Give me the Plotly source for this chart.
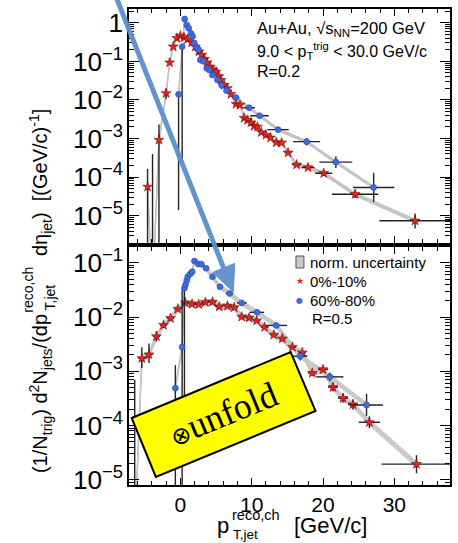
import plotly.graph_objects as go

# ---------------- data: R = 0.2 (top panel) ----------------
x_r02 = [-4.6, -3.9, -3.0, -2.0, -1.5, -1.0, -0.5, 0.0, 0.5, 1.0, 1.6, 2.1, 2.6, 3.0, 3.4, 3.75,
         4.2, 4.6, 5.0, 5.4, 5.7, 6.15, 6.6, 7.1, 7.8, 8.35, 8.95, 9.4, 9.9, 10.35, 10.8, 11.35,
         12.0, 12.65, 13.45, 14.2, 15.1, 16.3, 17.9, 20.1, 24.5, 32.9]
y_r02 = [5.6e-5, 1e-7, 9.2e-4, 0.0149, 0.093, 0.24, 0.40, 0.46, 0.42, 0.37, 0.31, 0.24, 0.18, 0.147,
         0.115, 0.093, 0.072, 0.060, 0.054, 0.041, 0.033, 0.0245, 0.020, 0.0141, 0.0078, 0.0074,
         0.0034, 0.0030, 0.0026, 0.0021, 0.0020, 0.00145, 0.00123, 0.00105, 0.00079, 0.00078,
         0.00043, 0.00021, 0.000178, 0.000126, 3.6e-5, 7.4e-6]
ex_r02 = [0.25] * 34 + [0.4, 0.4, 0.5, 0.6, 0.9, 1.2, 3.25, 5.0]
eup_r02 = [1.9, 3999, 1.5, 0.3] + [0.06] * 33 + [0.12, 0.12, 0.15, 0.25, 0.55]
edn_r02 = [0.999, 0.0, 0.999, 0.3] + [0.06] * 33 + [0.12, 0.12, 0.15, 0.2, 0.37]

x_b02 = [-0.25, 0.25, 0.6, 0.9, 1.17, 1.5, 1.73, 1.97, 2.29, 2.57, 2.8, 3.2, 3.7, 4.05, 4.5, 5.2,
         5.8, 6.47, 7.78, 9.64, 11.1, 13.7, 17.7, 21.8, 27.1]
y_b02 = [0.014, 0.24, 1.25, 0.88, 0.72, 0.53, 0.44, 0.29, 0.23, 0.20, 0.109, 0.10, 0.066, 0.060,
         0.044, 0.033, 0.024, 0.0174, 0.0115, 0.0063, 0.0039, 0.0017, 0.00083, 0.000245, 5.4e-5]
ex_b02 = [0.25] * 17 + [0.4, 0.5, 0.8, 1.3, 1.5, 1.9, 2.3, 2.9]
eup_b02 = [0.15, 0.1] + [0.05] * 15 + [0.06, 0.08, 0.1, 0.12, 0.18, 0.25, 0.4, 1.4]
edn_b02 = [0.999, 0.999] + [0.05] * 15 + [0.06, 0.08, 0.1, 0.12, 0.15, 0.2, 0.3, 0.58]

# ---------------- data: R = 0.5 (bottom panel) ----------------
x_r05 = [-6.4, -5.4, -4.4, -3.35, -2.36, -1.38, -0.36, 0.7, 1.64, 2.57, 3.5, 4.52, 5.45, 6.6, 7.55,
         8.6, 9.64, 10.7, 11.8, 13.1, 14.3, 15.7, 17.1, 18.5, 20.0, 21.4, 22.8, 24.2, 26.5, 33.1]
y_r05 = [1e-6, 0.00174, 0.00204, 0.0044, 0.0071, 0.0095, 0.0141, 0.0183, 0.0174, 0.0171, 0.0187,
         0.0190, 0.0155, 0.0160, 0.0150, 0.0101, 0.0097, 0.0086, 0.0065, 0.0047, 0.0040, 0.0028,
         0.00222, 0.00093, 0.00108, 0.00051, 0.00032, 0.000245, 0.000115, 1.95e-5]
ex_r05 = [0.5] * 23 + [0.6, 0.7, 0.7, 0.7, 0.7, 1.5, 4.9]
eup_r05 = [699, 0.6, 0.6, 0.25, 0.15, 0.1] + [0.06] * 17 + [0.12, 0.12, 0.2, 0.22, 0.24, 0.29, 0.46]
edn_r05 = [0.0, 0.34, 0.3, 0.2, 0.12, 0.1] + [0.06] * 17 + [0.1, 0.1, 0.17, 0.18, 0.2, 0.22, 0.32]

x_b05 = [-0.7, 0.25, 0.57, 0.71, 0.89, 1.03, 1.37, 1.65, 1.97, 2.5, 2.95, 3.6, 4.5, 5.55, 6.9, 8.6,
         10.75, 13.45, 16.8, 20.95, 26.1]
y_b05 = [0.00049, 0.0028, 0.034, 0.039, 0.047, 0.055, 0.062, 0.068, 0.107, 0.095, 0.094, 0.079,
         0.055, 0.036, 0.0272, 0.0182, 0.0122, 0.0070, 0.0019, 0.00079, 0.00024]
ex_b05 = [0.25] * 13 + [0.3, 0.5, 0.7, 1.0, 1.5, 1.0, 1.9, 2.3]
eup_b05 = [1.65, 10, 0.1] + [0.05] * 12 + [0.06, 0.08, 0.1, 0.2, 0.2, 0.6]
edn_b05 = [0.999, 0.999, 0.999] + [0.05] * 12 + [0.06, 0.08, 0.1, 0.17, 0.17, 0.37]

# relative normalisation (systematic) uncertainty for the grey bands
sys_r02, sys_b02, sys_r05, sys_b05 = 0.1, 0.08, 0.12, 0.1

series_names = ["0%-10%", "60%-80%"]
band_name = "norm. uncertainty"

# ---------------- styling ----------------
FONT = "Liberation Sans, Arial, Helvetica, sans-serif"
RED = "#e8231c"
BLUE = "#3c6de0"
W, H = 458, 543
ML, MR, MT, MB = 129, 6, 9, 58
PW, PH = W - ML - MR, H - MT - MB


def P(px, py):
    """pixel position -> paper coordinates (for decorations only)"""
    return (px - ML) / PW, (H - MB - py) / PH


fig = go.Figure()
TOP = dict(xaxis="x", yaxis="y")
BOT = dict(xaxis="x2", yaxis="y2")


def add_band(x, y, s, ax):
    up = [v * (1 + s) for v in y]
    lo = [v * (1 - s) for v in y]
    fig.add_trace(go.Scatter(
        x=list(x) + list(x)[::-1], y=up + lo[::-1], mode="lines", fill="toself",
        fillcolor="rgba(210,210,210,0.75)",
        fillpattern=dict(shape=".", fgcolor="#9a9a9a", bgcolor="#e2e2e2", size=3, solidity=0.3),
        line=dict(color="#b4b4b4", width=0.8), name=band_name, showlegend=False,
        hoverinfo="skip", **ax))


def add_line(x, y, ax):
    fig.add_trace(go.Scatter(x=x, y=y, mode="lines", line=dict(color="#c3c3c3", width=1.6),
                             showlegend=False, hoverinfo="skip", **ax))


def add_points(x, y, ex, eup, edn, ax, color, symbol, size, name):
    fig.add_trace(go.Scatter(
        x=x, y=y, mode="markers", name=name, showlegend=False,
        marker=dict(symbol=symbol, size=size, color=color,
                    line=dict(color="#5a0000" if symbol == "star" else "#1c3f9a", width=0.5)),
        error_x=dict(type="data", array=ex, color="#222222", thickness=1.4, width=0),
        error_y=dict(type="data", symmetric=False,
                     array=[v * u for v, u in zip(y, eup)],
                     arrayminus=[v * d for v, d in zip(y, edn)],
                     color="#222222", thickness=1.4, width=0),
        **ax))


# top panel
add_band(x_r02, y_r02, sys_r02, TOP)
add_band(x_b02, y_b02, sys_b02, TOP)
add_line(x_r02, y_r02, TOP)
add_line(x_b02, y_b02, TOP)
add_points(x_r02, y_r02, ex_r02, eup_r02, edn_r02, TOP, RED, "star", 7.5, series_names[0])
add_points(x_b02, y_b02, ex_b02, eup_b02, edn_b02, TOP, BLUE, "circle", 6, series_names[1])

# bottom panel
add_band(x_r05, y_r05, sys_r05, BOT)
add_band(x_b05, y_b05, sys_b05, BOT)
add_line(x_r05, y_r05, BOT)
add_line(x_b05, y_b05, BOT)
add_points(x_r05, y_r05, ex_r05, eup_r05, edn_r05, BOT, RED, "star", 7.5, series_names[0])
add_points(x_b05, y_b05, ex_b05, eup_b05, edn_b05, BOT, BLUE, "circle", 6, series_names[1])

xa = dict(range=[-7.2, 37.8], showgrid=False, zeroline=False, showline=True, linecolor="black",
          linewidth=1.5, mirror="ticks", ticks="inside", ticklen=7, tickwidth=1.2, tickcolor="black",
          tick0=0, dtick=10, tickfont=dict(family=FONT, size=21, color="black"),
          minor=dict(ticks="inside", ticklen=4, dtick=2, tick0=0, tickcolor="black", tickwidth=1,
                     showgrid=False))
ya = dict(type="log", showgrid=False, zeroline=False, showline=True, linecolor="black",
          linewidth=1.5, mirror="ticks", ticks="inside", ticklen=10, tickwidth=1.2, tickcolor="black",
          dtick=1, exponentformat="power", tickfont=dict(family=FONT, size=21, color="black"),
          minor=dict(ticks="inside", ticklen=5, dtick="D1", tickcolor="black", tickwidth=1,
                     showgrid=False))

top_lo = (H - MB - 242.7) / PH
bot_hi = (H - MB - 247.3) / PH

fig.update_layout(
    width=W, height=H, margin=dict(l=ML, r=MR, t=MT, b=MB), autosize=False,
    paper_bgcolor="white", plot_bgcolor="white",
    font=dict(family=FONT, color="black"),
    xaxis=dict(xa, anchor="y", domain=[0, 1], showticklabels=False),
    yaxis=dict(ya, anchor="x", domain=[top_lo, 1], range=[-5.70, 0.357]),
    xaxis2=dict(xa, anchor="y2", domain=[0, 1], showticklabels=True),
    yaxis2=dict(ya, anchor="x2", domain=[0, bot_hi], range=[-5.094, -0.716]),
    showlegend=False,
)

ann = []


def text(px, py, s, size, xanchor="left", yanchor="middle", angle=0, family=FONT, color="black"):
    X, Y = P(px, py)
    ann.append(dict(x=X, y=Y, xref="paper", yref="paper", text=s, showarrow=False,
                    xanchor=xanchor, yanchor=yanchor, textangle=angle,
                    font=dict(family=family, size=size, color=color)))


# top-panel labels
text(256, 29, "Au+Au, √s<sub>NN</sub>=200 GeV", 16.5)
text(256, 51, "9.0 < p<sub>T</sub><sup>trig</sup> < 30.0 GeV/c", 16)
text(256, 72, "R=0.2", 16)

# bottom-panel legend
text(309, 262, band_name, 15)
text(301, 281, "★", 9, xanchor="center", color=RED, family="DejaVu Sans")
text(309, 281, series_names[0], 15)
text(301, 300, "●", 8, xanchor="center", color=BLUE, family="DejaVu Sans")
text(309, 300, series_names[1], 15)
text(311, 318, "R=0.5", 15)

# x-axis title (stacked sub/superscript)
text(232, 525, "p", 22, xanchor="right")
text(231, 515, "reco,ch", 14.5)
text(232, 534, "T,jet", 13.5)
text(293, 525, "[GeV/c]", 22)

# y-axis title (rotated)
text(40, 475, "(1/N<sub>trig</sub>) d<sup>2</sup>N<sub>jets</sub>/(dp", 20, xanchor="center",
     yanchor="bottom", angle=-90)
text(27, 290, "reco,ch", 14, xanchor="center", yanchor="middle", angle=-90)
text(50, 297, "T,jet", 14, xanchor="center", yanchor="middle", angle=-90)
text(40, 107, "dη<sub>jet</sub>)  [(GeV/c)<sup>-1</sup>]", 20, xanchor="center",
     yanchor="top", angle=-90)

# "unfold" stamp
text(224, 414, "<span style='font-size:24px'>⊗</span>unfold", 36, xanchor="center",
     yanchor="middle", angle=-22.4, family="Liberation Serif, Times New Roman, serif")

shapes = []
# legend swatch for the normalisation uncertainty
bx0, by0 = P(297, 268)
bx1, by1 = P(305, 256)
shapes.append(dict(type="rect", xref="paper", yref="paper", x0=bx0, y0=by0, x1=bx1, y1=by1,
                   fillcolor="#c8c8c8", line=dict(color="#555555", width=1)))
# rotated yellow box
corners = [P(131.7, 418), P(291.7, 352), P(316.7, 411), P(156, 477)]
path = "M " + " L ".join(f"{cx},{cy}" for cx, cy in corners) + " Z"
shapes.append(dict(type="path", path=path, xref="paper", yref="paper",
                   fillcolor="#ffff00", line=dict(color="black", width=2), layer="above"))
# arrow
ARROW = "rgba(92,142,202,0.95)"
x0, y0 = P(114, -8)
x1, y1 = P(224.2, 268)
shapes.append(dict(type="line", x0=x0, y0=y0, x1=x1, y1=y1, xref="paper", yref="paper",
                   line=dict(color=ARROW, width=5), layer="above"))
tri = [P(234, 292), P(235.3, 263.4), P(213.1, 272.4)]
shapes.append(dict(type="path", xref="paper", yref="paper", layer="above",
                   path="M " + " L ".join(f"{cx},{cy}" for cx, cy in tri) + " Z",
                   fillcolor=ARROW, line=dict(color=ARROW, width=1)))

fig.update_layout(annotations=ann, shapes=shapes)
fig.write_html("out.html")
